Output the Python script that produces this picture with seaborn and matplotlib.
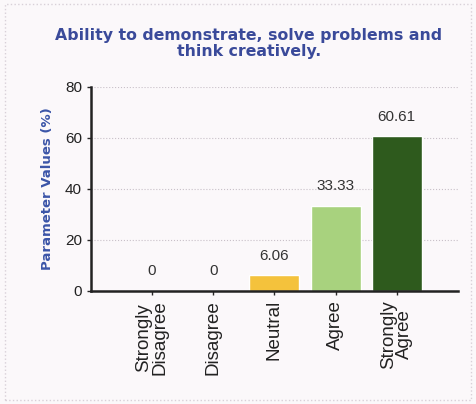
import numpy as np
import pandas as pd
import seaborn as sns
import matplotlib.pyplot as plt
from matplotlib.patches import Rectangle

categories = ["Strongly\nDisagree", "Disagree", "Neutral", "Agree", "Strongly\nAgree"]
values = [0, 0, 6.06, 33.33, 60.61]
labels = ["0", "0", "6.06", "33.33", "60.61"]
colors = ["#d9d9d9", "#d9d9d9", "#f4c23c", "#a8d27e", "#2e5a1d"]

df = pd.DataFrame({"cat": categories, "val": values})

sns.set_style("white")
plt.rcParams["font.family"] = ["Liberation Sans", "DejaVu Sans"]

fig = plt.figure(figsize=(4.76, 4.04), dpi=100)
fig.patch.set_facecolor("#fbf8fa")
ax = fig.add_axes([0.191, 0.280, 0.771, 0.505])
ax.set_facecolor("#fbf8fa")

sns.barplot(data=df, x="cat", y="val", hue="cat", palette=colors, legend=False,
            width=0.82, saturation=1, ax=ax)

# value labels above the bars
for i, (v, t) in enumerate(zip(values, labels)):
    ax.text(i, v + 7.7, t, ha="center", va="center", fontsize=11, color="#333333")

ax.set_xlim(-1, 5)
ax.set_ylim(0, 80)
ax.set_yticks([0, 20, 40, 60, 80])
ax.yaxis.grid(True, linestyle=":", color="#c8c0c8", linewidth=0.8)
ax.set_axisbelow(True)
for s in ["top", "right"]:
    ax.spines[s].set_visible(False)
for s in ["left", "bottom"]:
    ax.spines[s].set_color("#222222")
    ax.spines[s].set_linewidth(1.8)
ax.tick_params(axis="y", length=3, width=1, labelsize=11, direction="out", left=True,
               labelcolor="#222222")
ax.tick_params(axis="x", length=3, width=1, labelsize=13.5, direction="out", bottom=True,
               labelrotation=90, labelcolor="#222222")
for lab in ax.get_xticklabels():
    lab.set_linespacing(0.95)
ax.set_xlabel("")
ax.set_ylabel("Parameter Values (%)", fontsize=9.5, fontweight="bold", color="#3b55a8",
              family="DejaVu Sans", labelpad=8)

fig.text(0.523, 0.893, "Ability to demonstrate, solve problems and\nthink creatively.",
         ha="center", va="center", fontsize=11.3, fontweight="bold", color="#3a4a9a",
         family="DejaVu Sans", linespacing=1.05)

fig.patches.append(Rectangle((0.01, 0.01), 0.98, 0.98, transform=fig.transFigure,
                             fill=False, edgecolor="#d8d0d8", linestyle=":", linewidth=1))

fig.savefig("out.png", dpi=100, facecolor=fig.get_facecolor())
